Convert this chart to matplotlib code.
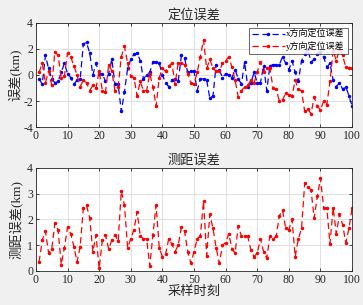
import numpy as np
import matplotlib
matplotlib.use("Agg")
import matplotlib.pyplot as plt

plt.rcParams['font.family'] = ['Liberation Serif', 'Noto Sans CJK SC']
plt.rcParams['axes.unicode_minus'] = False

samples = list(range(1, 101))
x_err = [-0.3, -0.7, 1.5, 0.5, -0.3, -0.6, -0.5, 0.2, 0.9, 0.1,
         -0.2, -0.7, -0.4, -0.3, 2.4, 2.5, 1.7, 0.0, 0.9, 0.1,
         0.1, -0.5, 0.1, 1.2, -0.7, -0.7, -2.8, -1.3, 0.5, 1.2,
         1.6, 1.7, 1.1, -0.3, 0.0, 0.2, 1.0, 1.0, 0.9, 0.0,
         -0.6, -0.9, -0.4, -0.3, -0.5, 1.5, 1.3, 0.2, 0.3, 0.3,
         -1.2, -0.3, -0.3, -0.4, -1.8, -1.6, 0.8, 0.4, -0.2, 0.1,
         0.0, -0.2, 0.4, -0.3, -0.7, 1.0, -0.9, -0.6, 0.2, -0.6,
         -0.6, 0.7, -1.2, 0.7, 0.8, 0.8, 0.8, 1.4, 0.9, 0.4,
         1.1, 0.2, -0.5, 1.1, 1.6, 2.0, 1.0, 1.2, 1.6, 1.8,
         1.4, 0.6, 0.9, -0.4, -0.9, -0.6, -1.1, -0.9, -1.6, -2.4]
y_err = [0.2, 0.9, -0.6, 0.3, -0.8, 1.8, 1.5, -0.2, -0.1, 1.7,
         1.4, 0.7, 0.0, -0.9, -0.4, -0.6, -1.2, -0.8, -1.0, 0.3,
         -1.2, -1.3, 0.8, 0.3, -1.2, -0.9, 1.4, 2.2, 0.9, -0.1,
         -0.2, -1.6, -0.5, -1.2, -1.2, 0.1, -0.9, -2.4, -0.2, 0.5,
         0.3, 0.7, 0.9, -0.7, 0.9, 0.9, 0.8, 0.1, -0.6, -0.7,
         0.2, 1.4, 2.7, 0.5, 1.2, 0.5, 0.3, 0.3, 0.9, 1.1,
         1.4, 0.6, -0.4, -1.7, -1.2, -0.9, -0.8, -0.4, -0.6, 0.2,
         1.0, 0.2, 0.5, 0.5, -1.0, -1.1, -2.0, -1.9, -1.4, -1.5,
         -1.6, -0.4, -1.1, -1.2, -2.8, -2.6, -3.0, -1.7, -2.4, -2.7,
         -2.0, -2.3, -0.5, 1.9, 1.1, 2.0, 1.5, 0.6, 0.5, 0.5]
range_err = [0.35, 1.2, 1.55, 0.7, 0.85, 1.85, 1.6, 0.25, 0.9, 1.7,
             1.45, 0.95, 0.35, 0.95, 2.45, 2.55, 2.05, 0.75, 1.4, 0.1,
             1.2, 1.4, 0.85, 1.2, 1.4, 1.15, 3.1, 2.55, 0.9, 1.25,
             1.6, 2.3, 1.35, 1.25, 1.25, 0.2, 1.4, 2.55, 0.9, 0.55,
             0.65, 1.25, 1.05, 0.75, 1.0, 1.7, 1.55, 0.75, 0.3, 0.75,
             1.25, 1.35, 2.7, 0.6, 2.2, 1.65, 0.9, 0.3, 1.0, 1.1,
             1.45, 0.85, 0.7, 1.75, 1.35, 1.35, 1.35, 0.8, 0.55, 0.7,
             1.25, 0.75, 0.5, 1.35, 1.25, 1.35, 2.15, 2.35, 1.65, 1.6,
             2.0, 0.55, 1.25, 1.65, 3.4, 3.25, 3.15, 2.05, 2.9, 3.6,
             2.45, 2.45, 1.05, 2.45, 1.45, 2.2, 1.8, 1.1, 1.65, 2.45]

xticks = [0, 10, 20, 30, 40, 50, 60, 70, 80, 90, 100]

fig = plt.figure(figsize=(3.63, 3.05), dpi=100, facecolor='#f0f0f0')
ax1 = fig.add_axes([0.099, 0.5836, 0.871, 0.341])
ax2 = fig.add_axes([0.099, 0.1115, 0.871, 0.338])

def style(ax):
    ax.set_facecolor('white')
    ax.set_xlim(0, 100)
    ax.set_xticks(xticks)
    ax.grid(True, color='#dcdcdc', linewidth=0.6)
    ax.set_axisbelow(True)
    ax.tick_params(direction='in', top=True, right=True, labelsize=8.5,
                   length=2.5, width=0.6, pad=2, colors='#262626')
    for s in ax.spines.values():
        s.set_linewidth(0.6)
        s.set_color('#262626')

blue = '#0000ff'
red = '#ff0000'
ax1.plot(samples, x_err, '--', color=blue, marker='.', markersize=3,
         linewidth=0.9, dashes=(5, 3), label='x方向定位误差')
ax1.plot(samples, y_err, '--', color=red, marker='.', markersize=3,
         linewidth=0.9, dashes=(5, 3), label='y方向定位误差')
style(ax1)
ax1.set_ylim(-4, 4)
ax1.set_yticks([-4, -2, 0, 2, 4])
ax1.set_title('定位误差', fontsize=9.5, pad=3, color='#262626')
ax1.set_ylabel('误差(km)', fontsize=9.5, labelpad=1, color='#262626')
leg = ax1.legend(loc='upper right', fontsize=6.5, frameon=True, fancybox=False,
                 edgecolor='#262626', borderpad=0.3, labelspacing=0.2,
                 handlelength=3.6, handletextpad=0.2, borderaxespad=0.5)
leg.get_frame().set_linewidth(0.6)

ax2.plot(samples, range_err, '--', color=red, marker='.', markersize=3,
         linewidth=0.9, dashes=(5, 3))
style(ax2)
ax2.set_ylim(0, 4)
ax2.set_yticks([0, 1, 2, 3, 4])
ax2.set_title('测距误差', fontsize=9.5, pad=3, color='#262626')
ax2.set_ylabel('测距误差(km)', fontsize=9.5, labelpad=3, color='#262626')
ax2.set_xlabel('采样时刻', fontsize=9.5, labelpad=0, color='#262626')

fig.savefig('out.png', dpi=100, facecolor=fig.get_facecolor())
